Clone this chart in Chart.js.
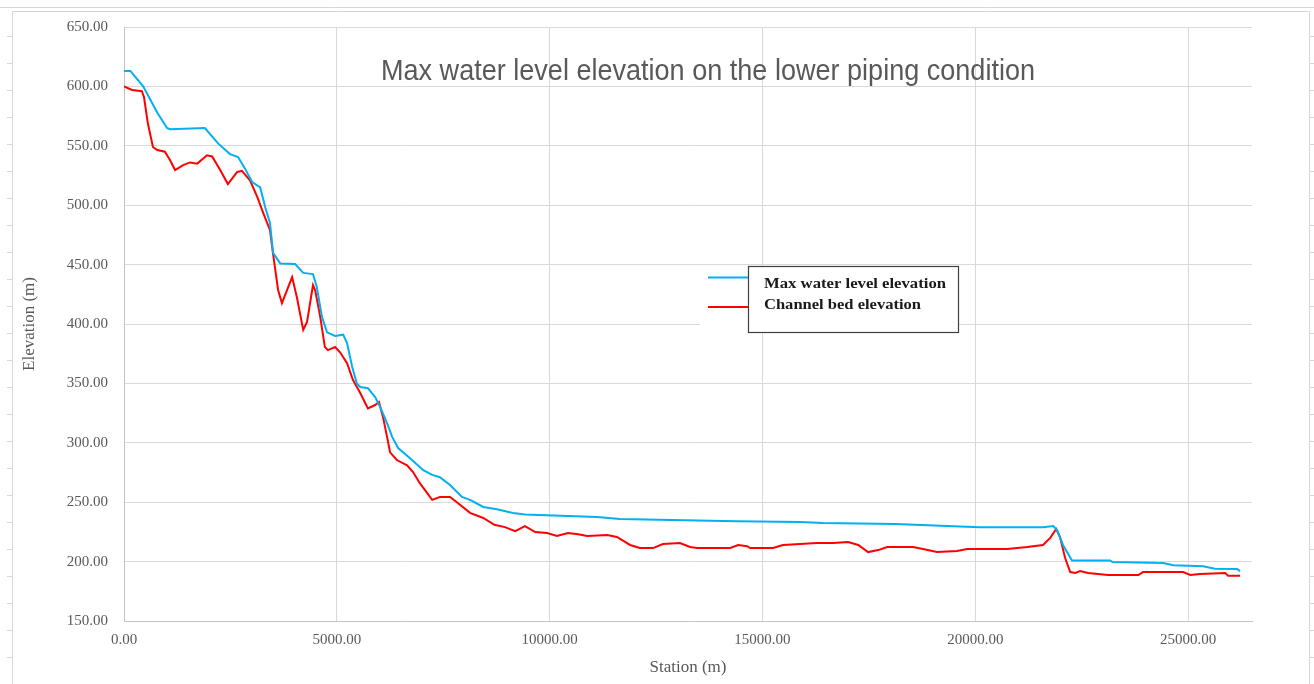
<!DOCTYPE html>
<html>
<head>
<meta charset="utf-8">
<script src="https://cdn.jsdelivr.net/npm/chart.js@4.4.1/dist/chart.umd.min.js"></script>
<style>
  html, body { margin: 0; padding: 0; background: #fff; }
  canvas { display: block; }
</style>
</head>
<body>
<canvas id="myChart" width="1314" height="684"></canvas>
<script>
// values (station in m, elevation in m)
const waterStation = [0, 150, 450, 780, 1010, 1080, 1900, 2210, 2490, 2680, 2840, 3010, 3200, 3320, 3430,
  3500, 3670, 4020, 4210, 4440, 4530, 4650, 4770, 4960, 5150, 5240, 5360, 5470, 5550, 5730, 5900,
  6020, 6180, 6300, 6440, 6720, 7030, 7240, 7420, 7660, 7940, 8130, 8440, 8760, 9140, 9420, 11110,
  11650, 14400, 15880, 16420, 18120, 20110, 21590, 21830, 21920, 22060, 22270, 22390, 23170, 23220,
  24410, 24650, 25350, 25630, 26150, 26220];
const waterLevel = [613, 613, 600, 578, 565, 564, 565, 552, 543, 540.5, 531, 519.5, 515, 498, 485,
  460, 451, 450.5, 443, 442, 431, 406, 393, 390, 391, 384, 364, 350, 347, 346, 338.5,
  330, 316.6, 305, 295.6, 287, 277, 273, 271, 264.5, 254.5, 252, 246, 244, 241, 239.6, 237.5,
  235.8, 234, 233.3, 232.4, 231.6, 229, 229, 230, 226.6, 214, 201, 201, 201, 199.7,
  198.8, 197, 196, 194, 193.7, 192];

const bedStation = [0, 190, 420, 470, 560, 680, 780, 960, 1080, 1200, 1390, 1550, 1720, 1950, 2070,
  2260, 2440, 2660, 2770, 2960, 3130, 3270, 3430, 3500, 3620, 3710, 3950, 4060, 4210, 4300, 4440,
  4490, 4610, 4720, 4790, 4960, 5080, 5240, 5380, 5550, 5730, 5900, 5990, 6090, 6180, 6250, 6410,
  6650, 6790, 6950, 7240, 7420, 7660, 7820, 8130, 8440, 8700, 8950, 9190, 9420, 9660, 9940, 10170,
  10430, 10670, 10880, 11350, 11580, 11890, 12120, 12430, 12660, 13060, 13300, 13460, 14240, 14430,
  14640, 14710, 15250, 15480, 15880, 16280, 16660, 17010, 17250, 17480, 17720, 17930, 18540, 18770,
  19100, 19570, 19810, 20750, 21220, 21590, 21760, 21900, 21990, 22110, 22230, 22350, 22460, 22650,
  23120, 23830, 23940, 24880, 25050, 25280, 25870, 25940, 26220];
const bedLevel = [600, 597, 596, 591, 569, 549, 546.5, 545, 538, 529.6, 533.8, 536, 535, 542, 541,
  529.6, 517.8, 528, 529, 521, 507, 493.5, 479, 459.7, 428.6, 417.6, 439.5, 422.7, 395, 401.7, 432.8,
  428.6, 406, 380.6, 378, 380.6, 376, 367, 352.8, 341.9, 329, 331.8, 334.3, 320.9, 305, 292, 285.5,
  281, 275.4, 266, 252, 254.4, 254.4, 250, 241, 236.7, 231, 229, 225.7, 229.9, 224.9, 224, 221.5,
  224, 223, 221.5, 222.4, 220.7, 214, 211.4, 211.4, 214.8, 215.6, 212.3, 211.4, 211.4, 214,
  213, 211.4, 211.4, 214, 214.8, 215.6, 215.6, 216.5, 214, 208, 209.7, 212.3, 212.3, 210.6,
  208, 208.9, 210.6, 210.6, 212.3, 214, 220, 227.4, 220.7, 203, 191.2, 190.4, 192, 190.4,
  188.7, 188.7, 191.2, 191.2, 188.7, 189.5, 190.4, 188, 188];

const xTicks = [0, 5000, 10000, 15000, 20000, 25000];
const seriesNames = ['Max water level elevation', 'Channel bed elevation'];
const seriesColors = ['#00B0F0', '#FF0000'];
const chartTitle = 'Max water level elevation on the lower piping condition';

function toPoints(xs, ys) {
  return xs.map((x, i) => ({ x: x, y: ys[i] }));
}

// draw text squeezed/stretched to a given width, starting at x
function fitText(ctx, text, x, y, width) {
  const w = ctx.measureText(text).width;
  ctx.save();
  ctx.translate(x, y);
  ctx.scale(width / w, 1);
  ctx.textAlign = 'left';
  ctx.fillText(text, 0, 0);
  ctx.restore();
}

const decorations = {
  id: 'decorations',
  beforeDraw(chart) {
    const ctx = chart.ctx;
    ctx.save();
    ctx.fillStyle = '#fff';
    ctx.fillRect(0, 0, chart.width, chart.height);
    // sheet frame around the chart
    ctx.strokeStyle = '#d6d6d6';
    ctx.lineWidth = 1;
    ctx.beginPath();
    ctx.moveTo(0, 7.5); ctx.lineTo(1314, 7.5);
    ctx.moveTo(12.5, 11.5); ctx.lineTo(1309.5, 11.5);
    ctx.moveTo(12.5, 11.5); ctx.lineTo(12.5, 684);
    ctx.moveTo(1309.5, 11.5); ctx.lineTo(1309.5, 684);
    for (let y = 36; y < 684; y += 27) {
      ctx.moveTo(7, y + 0.5); ctx.lineTo(12, y + 0.5);
      ctx.moveTo(1310, y + 0.5); ctx.lineTo(1314, y + 0.5);
    }
    ctx.stroke();
    ctx.restore();
  },
  afterDatasetsDraw(chart) {
    const ctx = chart.ctx;
    ctx.save();
    // title inside the plot
    ctx.fillStyle = '#595959';
    ctx.font = '29px "Liberation Sans", sans-serif';
    ctx.textBaseline = 'alphabetic';
    fitText(ctx, chartTitle, 381, 80, 654);

    // legend box
    ctx.fillStyle = '#fff';
    ctx.fillRect(700, 266, 259, 67);
    ctx.strokeStyle = '#404040';
    ctx.lineWidth = 1.2;
    ctx.strokeRect(748.5, 266.5, 210, 66);
    ctx.lineWidth = 2;
    [277.5, 307].forEach((y, i) => {
      ctx.strokeStyle = seriesColors[i];
      ctx.beginPath();
      ctx.moveTo(708, y); ctx.lineTo(748, y);
      ctx.stroke();
    });
    ctx.fillStyle = '#1a1a1a';
    ctx.font = 'bold 14px "Liberation Serif", serif';
    ctx.textBaseline = 'middle';
    fitText(ctx, seriesNames[0], 764, 284, 182);
    fitText(ctx, seriesNames[1], 764, 305, 157);
    ctx.restore();
  }
};

const ctx = document.getElementById('myChart');

new Chart(ctx, {
  type: 'line',
  data: {
    datasets: [{
      label: seriesNames[0],
      data: toPoints(waterStation, waterLevel),
      borderColor: seriesColors[0],
      backgroundColor: seriesColors[0],
      borderWidth: 2,
      pointRadius: 0,
      tension: 0
    }, {
      label: seriesNames[1],
      data: toPoints(bedStation, bedLevel),
      borderColor: seriesColors[1],
      backgroundColor: seriesColors[1],
      borderWidth: 2,
      pointRadius: 0,
      tension: 0
    }]
  },
  options: {
    responsive: false,
    animation: false,
    devicePixelRatio: 1,
    layout: { padding: { left: 12, right: 62, top: 27, bottom: 0 } },
    plugins: {
      legend: { display: false },
      title: { display: false },
      tooltip: { enabled: false }
    },
    scales: {
      x: {
        type: 'linear',
        min: 0,
        max: 26500,
        afterBuildTicks: (axis) => {
          axis.ticks = xTicks.map(v => ({ value: v }));
        },
        afterFit: (axis) => { axis.height = 63; },
        grid: { color: '#d9d9d9', drawTicks: false },
        border: { color: '#c4c4c4' },
        ticks: {
          padding: 10,
          color: '#595959',
          font: { family: '"Liberation Serif", serif', size: 15 },
          callback: v => v.toFixed(2)
        },
        title: {
          display: true,
          text: 'Station (m)',
          color: '#595959',
          font: { family: '"Liberation Serif", serif', size: 17 },
          padding: { top: 0, bottom: 6 }
        }
      },
      y: {
        min: 150,
        max: 650,
        afterFit: (axis) => { axis.width = 112; },
        grid: { color: '#d9d9d9', drawTicks: false },
        border: { color: '#c4c4c4' },
        ticks: {
          stepSize: 50,
          padding: 16,
          color: '#595959',
          font: { family: '"Liberation Serif", serif', size: 15 },
          callback: v => v.toFixed(2)
        },
        title: {
          display: true,
          text: 'Elevation (m)',
          color: '#595959',
          font: { family: '"Liberation Serif", serif', size: 17 },
          padding: { top: 7, bottom: 0 }
        }
      }
    }
  },
  plugins: [decorations]
});
</script>
</body>
</html>
